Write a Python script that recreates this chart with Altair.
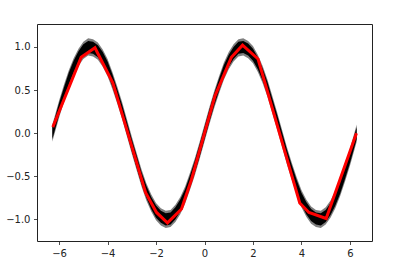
import altair as alt
import pandas as pd

# Noisy sine cloud: centre of the black band
band_x = [-6.28, -6.2, -6.0, -5.8, -5.6, -5.4, -5.2, -5.0, -4.8, -4.6, -4.4, -4.2,
          -4.0, -3.8, -3.6, -3.4, -3.2, -3.0, -2.8, -2.6, -2.4, -2.2, -2.0, -1.8,
          -1.6, -1.4, -1.2, -1.0, -0.8, -0.6, -0.4, -0.2, 0.0, 0.2, 0.4, 0.6, 0.8,
          1.0, 1.2, 1.4, 1.6, 1.8, 2.0, 2.2, 2.4, 2.6, 2.8, 3.0, 3.2, 3.4, 3.6, 3.8,
          4.0, 4.2, 4.4, 4.6, 4.8, 5.0, 5.2, 5.4, 5.6, 5.8, 6.0, 6.2, 6.28]
band_y = [0.00, 0.08, 0.28, 0.46, 0.63, 0.77, 0.88, 0.96, 1.00, 0.99, 0.95, 0.87,
          0.76, 0.61, 0.44, 0.26, 0.06, -0.14, -0.33, -0.52, -0.68, -0.81, -0.91, -0.97,
          -1.00, -0.99, -0.93, -0.84, -0.72, -0.56, -0.39, -0.20, 0.00, 0.20, 0.39, 0.56, 0.72,
          0.84, 0.93, 0.99, 1.00, 0.97, 0.91, 0.81, 0.68, 0.52, 0.33, 0.14, -0.06, -0.26, -0.44, -0.61,
          -0.76, -0.87, -0.95, -0.99, -1.00, -0.96, -0.88, -0.77, -0.63, -0.46, -0.28, -0.08, 0.00]

# Red piecewise-linear fit vertices
fit_x = [-6.26, -5.09, -4.52, -3.78, -2.43, -1.98, -1.53, -0.95, -0.54, 0.43,
         1.11, 1.57, 2.21, 3.93, 4.31, 5.02, 6.27]
fit_y = [0.07, 0.88, 0.99, 0.58, -0.69, -0.92, -1.04, -0.88, -0.54, 0.43,
         0.88, 1.02, 0.86, -0.81, -0.92, -0.99, 0.00]

band = pd.DataFrame({"x": band_x, "y": band_y})
fit = pd.DataFrame({"x": fit_x, "y": fit_y})

xs = alt.Scale(domain=[-6.912, 6.912], nice=False, zero=False)
ys = alt.Scale(domain=[-1.251, 1.266], nice=False, zero=False)

xaxis = alt.Axis(values=[-6, -4, -2, 0, 2, 4, 6], format="d",
                 labelExpr="replace(datum.label, '-', '\u2212')", title=None)
yaxis = alt.Axis(values=[-1.0, -0.5, 0.0, 0.5, 1.0], format=".1f",
                 labelExpr="replace(datum.label, '-', '\u2212')", title=None)

base = alt.Chart(band).transform_calculate(
    lo_out="datum.y - 0.10", hi_out="datum.y + 0.10",
    lo_in="datum.y - 0.07", hi_in="datum.y + 0.07")

outer = base.mark_area(color="black", opacity=0.5).encode(
    x=alt.X("x:Q", scale=xs, axis=xaxis),
    y=alt.Y("lo_out:Q", scale=ys, axis=yaxis),
    y2="hi_out:Q")
inner = base.mark_area(color="black", opacity=1).encode(
    x=alt.X("x:Q", scale=xs),
    y=alt.Y("lo_in:Q", scale=ys),
    y2="hi_in:Q")
line = alt.Chart(fit).mark_line(color="#ff0000", strokeWidth=3).encode(
    x=alt.X("x:Q", scale=xs),
    y=alt.Y("y:Q", scale=ys))

chart = alt.layer(outer, inner, line).properties(
    width=335, height=217,
    autosize=alt.AutoSizeParams(type="none"),
    padding={"left": 37, "top": 24, "right": 45, "bottom": 19},
    background="white",
).configure_view(stroke="#222222", strokeWidth=1).configure_axis(
    grid=False, domain=False, ticks=True, tickSize=3.5, tickWidth=0.8,
    tickColor="#222222", labelPadding=3.5, labelColor="#222222",
    labelFont="DejaVu Sans", labelFontSize=10)

chart.save("out.html", embed_options={"renderer": "svg", "actions": False})
